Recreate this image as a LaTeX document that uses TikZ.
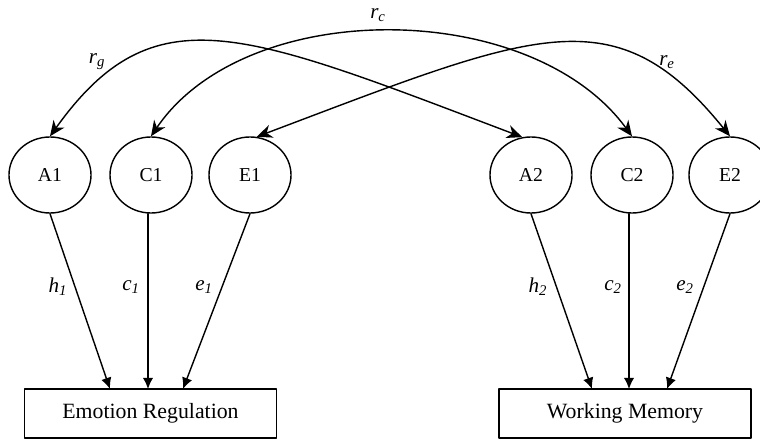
\documentclass[tikz,border=0pt]{standalone}
\usepackage{fontspec}
\setmainfont{Liberation Serif}
\usetikzlibrary{shapes.geometric,arrows.meta}

\begin{document}
\begin{tikzpicture}[x=0.025cm,y=-0.025cm,line cap=round,line join=round,
  latent/.style={draw,ellipse,line width=1pt,minimum width=2.05cm,minimum height=1.9cm,inner sep=0pt,font=\fontsize{14}{16}\selectfont},
  observed/.style={draw,rectangle,line width=1pt,minimum width=6.3cm,minimum height=1.22cm,font=\fontsize{15.5}{18}\selectfont},
  path/.style={line width=1pt,-{Latex[length=8pt,width=7.5pt]}},
  corr/.style={line width=1pt,{Stealth[length=11pt,width=9.5pt,inset=3.5pt]}-{Stealth[length=11pt,width=9.5pt,inset=3.5pt]}},
  lbl/.style={font=\fontsize{15}{17}\selectfont\itshape}]
\useasboundingbox (0,0) rectangle (760,439);

% latent factors
\node[latent] (A1) at (50,175) {A1};
\node[latent] (C1) at (151,175) {C1};
\node[latent] (E1) at (250,175) {E1};
\node[latent] (A2) at (531,175) {A2};
\node[latent] (C2) at (632,175) {C2};
\node[latent] (E2) at (730,175) {E2};

% phenotypes
\node[observed] (ER) at (150.5,413.5) {Emotion Regulation};
\node[observed] (WM) at (625,413.5) {Working Memory};

\coordinate (er1) at (110,389);
\coordinate (er2) at (148,389);
\coordinate (er3) at (183,389);
\coordinate (wm1) at (592,389);
\coordinate (wm2) at (629,389);
\coordinate (wm3) at (667,389);

% paths
\draw[path] (A1.south) -- (er1);
\draw[path] (C1.south -| er2) -- (er2);
\draw[path] (E1.south) -- (er3);
\draw[path] (A2.south) -- (wm1);
\draw[path] (C2.south -| wm2) -- (wm2);
\draw[path] (E2.south) -- (wm3);

\node[lbl] (h1) at (58,287) {h\textsubscript{1}};
\node[lbl] (c1) at (131,287) {c\textsubscript{1}};
\node[lbl] (e1) at (204,287) {e\textsubscript{1}};
\node[lbl] (h2) at (538,287) {h\textsubscript{2}};
\node[lbl] (c2) at (613,287) {c\textsubscript{2}};
\node[lbl] (e2) at (685,287) {e\textsubscript{2}};

% correlations
\draw[corr] (A1.north) .. controls (154,-9) and (242,31) .. (A2.103);
\draw[corr] (C1.north) .. controls (246,-4) and (531,-2) .. (C2.north);
\draw[corr] (E1.80) .. controls (537,31) and (615,-6) .. (E2.north);

\node[lbl] (rg) at (97,62) {r\textsubscript{g}};
\node[lbl] (rc) at (378,15) {r\textsubscript{c}};
\node[lbl] (re) at (667,62) {r\textsubscript{e}};
\end{tikzpicture}
\end{document}
